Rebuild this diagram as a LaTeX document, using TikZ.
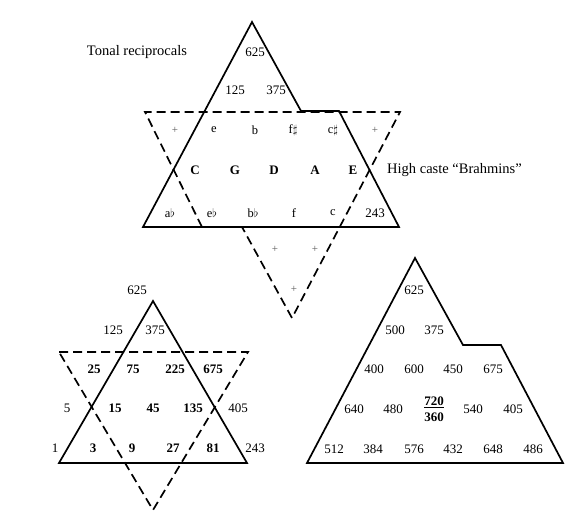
\documentclass[tikz,border=0pt]{standalone}
\usepackage{fontspec}
\setmainfont{Liberation Serif}
\begin{document}
\begin{tikzpicture}[x=1pt,y=-1pt]
\tikzset{
 solidline/.style={line width=1.7pt, line join=miter},
 dashline/.style={line width=1.7pt, dash pattern=on 9pt off 5pt},
 num/.style={inner sep=0pt, font=\fontsize{13}{15}\selectfont},
 bnum/.style={inner sep=0pt, font=\fontsize{13}{15}\selectfont\bfseries},
 plus/.style={inner sep=0pt, text=black!65, font=\fontsize{11}{12}\selectfont},
 lab/.style={inner sep=0pt, font=\fontsize{14.5}{16}\selectfont},
 note/.style={inner sep=0pt, font=\fontsize{12.5}{14}\selectfont},
 bnote/.style={inner sep=0pt, font=\fontsize{13}{15}\selectfont\bfseries},
}
\useasboundingbox (0,0) rectangle (584,512);
\fill[white] (0,0) rectangle (584,512);

% ---------- top figure ----------
\coordinate (tA) at (252,22);
\coordinate (tL) at (143,227);
\coordinate (tR) at (399,227);
\coordinate (tS1) at (301,111);
\coordinate (tS2) at (339,111);
\draw[solidline] (tA) -- (tS1) -- (tS2) -- (tR) -- (tL) -- cycle;

\coordinate (dTL) at (145,112);
\coordinate (dTR) at (400,112);
\coordinate (dS1) at (202,227);
\coordinate (dS2) at (242,227);
\coordinate (dB) at (292,318);
\draw[dashline] (dS1) -- (dTL) -- (dTR) -- (dB) -- (dS2) -- (dS1);

\node[lab] (tonal) at (137,52) {Tonal reciprocals};
\node[lab, anchor=west] (brah) at (387,170) {High caste “Brahmins”};
\node[num] (t625) at (255,52) {625};
\node[num] (t125) at (235,90) {125};
\node[num] (t375) at (276,90) {375};

\node[plus] (p1) at (175,130) {+};
\node[note] (r1a) at (214,130) {e};
\node[note] (r1b) at (255,130) {b};
\node[note] (r1c) at (293,130) {f$\sharp$};
\node[note] (r1d) at (333,130) {c$\sharp$};
\node[plus] (p2) at (375,130) {+};

\node[bnote] (r2a) at (195,170) {C};
\node[bnote] (r2b) at (235,170) {G};
\node[bnote] (r2c) at (274,170) {D};
\node[bnote] (r2d) at (315,170) {A};
\node[bnote] (r2e) at (353,170) {E};

\node[note] (r3a) at (170,213) {a$\flat$};
\node[note] (r3b) at (212,213) {e$\flat$};
\node[note] (r3c) at (253,213) {b$\flat$};
\node[note] (r3d) at (294,213) {f};
\node[note] (r3e) at (333,213) {c};
\node[num] (r3f) at (375,213) {243};

\node[plus] (p3) at (275,249) {+};
\node[plus] (p4) at (315,249) {+};
\node[plus] (p5) at (294,289) {+};

% ---------- bottom-left star ----------
\coordinate (lA) at (153,301);
\coordinate (lL) at (59,463);
\coordinate (lR) at (247,463);
\draw[solidline] (lA) -- (lR) -- (lL) -- cycle;
\coordinate (lDL) at (59,352);
\coordinate (lDR) at (248,352);
\coordinate (lDB) at (153,510);
\draw[dashline] (lDL) -- (lDR) -- (lDB) -- cycle;

\node[num] (l625) at (137,290) {625};
\node[num] (l125) at (113,330) {125};
\node[num] (l375) at (155,330) {375};
\node[bnum] (l25) at (94,369) {25};
\node[bnum] (l75) at (133,369) {75};
\node[bnum] (l225) at (175,369) {225};
\node[bnum] (l675) at (213,369) {675};
\node[num] (l5) at (67,408) {5};
\node[bnum] (l15) at (115,408) {15};
\node[bnum] (l45) at (153,408) {45};
\node[bnum] (l135) at (193,408) {135};
\node[num] (l405) at (238,408) {405};
\node[num] (l1) at (55,448) {1};
\node[bnum] (l3) at (93,448) {3};
\node[bnum] (l9) at (132,448) {9};
\node[bnum] (l27) at (173,448) {27};
\node[bnum] (l81) at (213,448) {81};
\node[num] (l243) at (255,448) {243};

% ---------- bottom-right triangle ----------
\coordinate (rA) at (415,258);
\coordinate (rS1) at (463,345);
\coordinate (rS2) at (501,345);
\coordinate (rR) at (563,463);
\coordinate (rL) at (307,463);
\draw[solidline] (rA) -- (rS1) -- (rS2) -- (rR) -- (rL) -- cycle;

\node[num] (r625) at (414,290) {625};
\node[num] (r500) at (395,330) {500};
\node[num] (r375) at (434,330) {375};
\node[num] (r400) at (374,369) {400};
\node[num] (r600) at (414,369) {600};
\node[num] (r450) at (453,369) {450};
\node[num] (r675) at (493,369) {675};
\node[num] (r640) at (354,409) {640};
\node[num] (r480) at (393,409) {480};
\node[bnum] (r720) at (434,402) {\underline{720}};
\node[bnum] (r360) at (434,417) {360};
\node[num] (r540) at (473,409) {540};
\node[num] (r405) at (513,409) {405};
\node[num] (r512) at (334,449) {512};
\node[num] (r384) at (373,449) {384};
\node[num] (r576) at (414,449) {576};
\node[num] (r432) at (453,449) {432};
\node[num] (r648) at (493,449) {648};
\node[num] (r486) at (533,449) {486};
\end{tikzpicture}
\end{document}
